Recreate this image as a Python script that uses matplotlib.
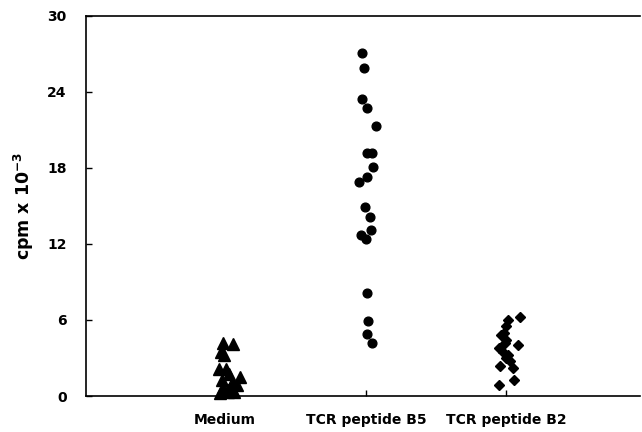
import matplotlib
matplotlib.use("Agg")
import matplotlib.pyplot as plt
import numpy as np

plt.rcParams['font.family'] = ['DejaVu Sans']
plt.rcParams['font.weight'] = 'bold'
plt.rcParams['mathtext.default'] = 'bf'

categories = ["Medium", "TCR peptide B5", "TCR peptide B2"]

medium_vals = [4.2, 4.1, 3.5, 3.2, 2.1, 2.1, 1.7, 1.5, 1.3, 1.0, 0.9, 0.6, 0.5, 0.35, 0.2, 0.3]
medium_jit = [-0.014, 0.057, -0.028, -0.007, -0.043, 0.007, 0.028, 0.107, -0.021, 0.05, 0.085, -0.014, 0.021, 0.021, -0.036, 0.064]

b5_vals = [27.1, 25.9, 23.4, 22.7, 21.3, 19.2, 19.2, 18.1, 17.3, 16.9, 14.9, 14.1, 13.1, 12.7, 12.4, 8.1, 5.9, 4.9, 4.2]
b5_jit = [-0.031, -0.012, -0.031, 0.005, 0.073, 0.009, 0.041, 0.052, 0.009, -0.048, -0.007, 0.028, 0.036, -0.036, -0.002, 0.005, 0.012, 0.005, 0.041]

b2_vals = [6.2, 6.0, 5.5, 5.0, 4.8, 4.4, 4.2, 4.0, 3.8, 3.5, 3.2, 3.0, 2.8, 2.4, 2.2, 1.3, 0.9]
b2_jit = [0.093, 0.014, 0.0, -0.021, -0.036, 0.0, -0.014, 0.085, -0.05, -0.028, 0.014, 0.0, 0.028, -0.043, 0.043, 0.057, -0.05]

yticks = [0, 6, 12, 18, 24, 30]

fig = plt.figure(figsize=(6.42, 4.32), dpi=100)
ax = fig.add_axes([0.134, 0.0833, 0.863, 0.88])

ax.plot(1 + np.array(medium_jit), medium_vals, linestyle='none', marker='^', ms=8, color='black', clip_on=False)
ax.plot(2 + np.array(b5_jit), b5_vals, linestyle='none', marker='o', ms=6.3, color='black')
ax.plot(3 + np.array(b2_jit), b2_vals, linestyle='none', marker='D', ms=5.3, color='black')

ax.set_xlim(0.01, 3.95)
ax.set_ylim(0, 30)
ax.set_yticks(yticks)
ax.set_yticklabels([str(t) for t in yticks], fontsize=10, fontweight='bold')
ax.set_xticks([1, 2, 3])
ax.set_xticklabels(categories, fontsize=10, fontweight='bold')
ax.tick_params(axis='both', direction='in', length=4, width=1, pad=14)
ax.tick_params(axis='x', pad=12)
ax.spines['right'].set_visible(False)
for s in ['left', 'bottom', 'top']:
    ax.spines[s].set_linewidth(1.2)

ax.set_ylabel(r'cpm x 10$^{-3}$', fontsize=12.5, fontweight='bold')
ax.yaxis.set_label_coords(-0.09, 0.5)

fig.savefig('out.png', dpi=100)
